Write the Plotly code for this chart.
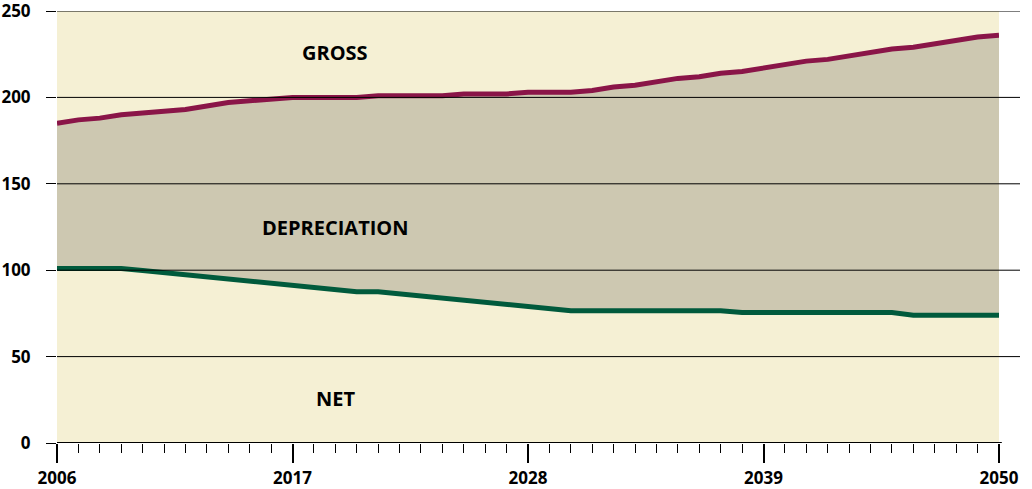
import plotly.graph_objects as go

# years 2006..2050
years = list(range(2006, 2051))

# gross investment (top line)
gross = [185, 187, 188, 190, 191, 192, 193, 195, 197, 198,
         199, 200, 200, 200, 200, 201, 201, 201, 201, 202,
         202, 202, 203, 203, 203, 204, 206, 207, 209, 211,
         212, 214, 215, 217, 219, 221, 222, 224, 226, 228,
         229, 231, 233, 235, 236]

# net investment (bottom line)
net = [101, 101, 101, 101, 99.8, 98.5, 97.3, 96.1, 94.8, 93.6,
       92.4, 91.2, 89.9, 88.7, 87.5, 87.5, 86.3, 85.1, 83.8, 82.6,
       81.4, 80.2, 79.0, 77.7, 76.5, 76.5, 76.5, 76.5, 76.5, 76.5,
       76.5, 76.5, 75.5, 75.5, 75.5, 75.5, 75.5, 75.5, 75.5, 75.5,
       74, 74, 74, 74, 74]

y_ticks = [0, 50, 100, 150, 200, 250]
x_ticks = [2006, 2017, 2028, 2039, 2050]

labels = ["GROSS", "DEPRECIATION", "NET"]
label_y = [226, 125, 26]
label_x = 2019

cream = "#F5F0D4"
fill_col = "#CDC8B1"
maroon = "#8A1548"
green = "#005A3C"

fig = go.Figure()

# shaded band between the lines (depreciation)
fig.add_trace(go.Scatter(x=years, y=net, mode="lines", line=dict(width=0),
                         showlegend=False, hoverinfo="skip"))
fig.add_trace(go.Scatter(x=years, y=gross, mode="lines", line=dict(width=0),
                         fill="tonexty", fillcolor=fill_col,
                         showlegend=False, hoverinfo="skip"))

# the two lines on top
fig.add_trace(go.Scatter(x=years, y=net, mode="lines",
                         line=dict(color=green, width=5), showlegend=False))
fig.add_trace(go.Scatter(x=years, y=gross, mode="lines",
                         line=dict(color=maroon, width=5), showlegend=False))

# gridlines, reaching a bit past the plot area on the right
for v in y_ticks[1:]:
    fig.add_shape(type="line", xref="paper", yref="y", x0=0, x1=1.0223,
                  y0=v, y1=v, line=dict(color="black", width=1), layer="above")
fig.add_shape(type="line", xref="paper", yref="y", x0=0, x1=1.003,
              y0=0, y1=0, line=dict(color="black", width=2), layer="above")

for t, yy in zip(labels, label_y):
    fig.add_annotation(x=label_x, y=yy, text=t, showarrow=False,
                       font=dict(family="Open Sans", size=20, color="black", weight="bold"))

fig.update_layout(
    width=1032, height=489,
    margin=dict(l=57, r=33, t=11, b=46),
    plot_bgcolor=cream, paper_bgcolor="white",
    font=dict(family="Open Sans", color="black"),
)

fig.update_xaxes(
    range=[2006, 2050], tickvals=x_ticks, showgrid=False, zeroline=False,
    automargin=False, ticklabeloverflow="allow",
    ticks="outside", ticklen=19, tickwidth=2, tickcolor="black",
    ticklabelstandoff=1,
    tickfont=dict(family="Open Sans", size=17, color="black", weight="bold"),
    minor=dict(dtick=1, tick0=2006, ticks="outside", ticklen=9, tickwidth=1,
               tickcolor="black", showgrid=False),
)
fig.update_yaxes(
    range=[0, 250], tickvals=y_ticks, showgrid=False, zeroline=False,
    automargin=False, ticklabeloverflow="allow",
    ticks="outside", ticklen=10, tickwidth=1, tickcolor="black",
    ticklabelstandoff=12,
    tickfont=dict(family="Open Sans", size=17, color="black", weight="bold"),
)

# drop the page's default body margin so the chart sits at the window corner
fig.write_html("out.html", config={"displayModeBar": False},
               post_script="document.body.style.margin='0';")
